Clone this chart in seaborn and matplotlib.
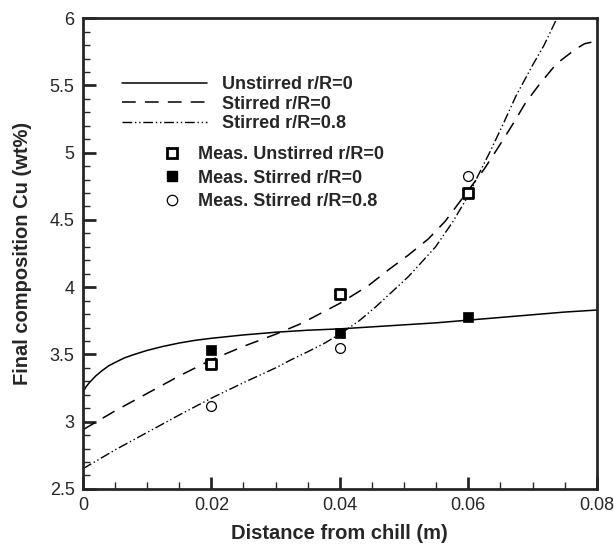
import numpy as np
import pandas as pd
import seaborn as sns
import matplotlib.pyplot as plt
from matplotlib.ticker import MultipleLocator
from matplotlib.lines import Line2D

# Simulated curves
x_unstirred = [0.0, 0.0005, 0.001, 0.002, 0.003, 0.004, 0.005, 0.0065, 0.008, 0.01, 0.0125,
               0.015, 0.0175, 0.02, 0.025, 0.03, 0.035, 0.04, 0.045, 0.05, 0.055, 0.06,
               0.065, 0.07, 0.075, 0.08]
y_unstirred = [3.22, 3.26, 3.29, 3.34, 3.38, 3.415, 3.44, 3.475, 3.50, 3.53, 3.56,
               3.585, 3.605, 3.62, 3.645, 3.665, 3.68, 3.69, 3.705, 3.72, 3.735, 3.755,
               3.775, 3.795, 3.815, 3.83]

x_stirred0 = [0.0, 0.005, 0.01, 0.015, 0.02, 0.025, 0.03, 0.034, 0.0376, 0.04, 0.0444,
              0.0476, 0.0507, 0.0538, 0.0564, 0.06, 0.0625, 0.0648, 0.0669, 0.0689,
              0.0711, 0.0737, 0.0767, 0.0781, 0.08]
y_stirred0 = [2.94, 3.08, 3.21, 3.34, 3.46, 3.56, 3.65, 3.73, 3.82, 3.88, 4.01,
              4.13, 4.24, 4.36, 4.49, 4.72, 4.88, 5.05, 5.21, 5.37,
              5.51, 5.66, 5.77, 5.81, 5.83]

x_stirred08 = [0.0, 0.005, 0.01, 0.015, 0.02, 0.025, 0.03, 0.0324, 0.035, 0.0375, 0.0403,
               0.043, 0.0455, 0.048, 0.0507, 0.053, 0.0549, 0.0575, 0.06, 0.0611, 0.0632,
               0.0653, 0.0674, 0.07, 0.0718, 0.0738, 0.075]
y_stirred08 = [2.65, 2.79, 2.92, 3.05, 3.175, 3.29, 3.40, 3.46, 3.52, 3.58, 3.66,
               3.75, 3.85, 3.96, 4.08, 4.20, 4.30, 4.48, 4.68, 4.79, 4.99,
               5.20, 5.42, 5.65, 5.80, 6.00, 6.10]

# Measurements
x_meas = [0.02, 0.04, 0.06]
meas_unstirred = [3.43, 3.95, 4.70]
meas_stirred0 = [3.53, 3.66, 3.78]
meas_stirred08 = [3.12, 3.55, 4.83]

dash_style = (0, (9, 6))
dashdot_style = (0, (7, 2, 1, 2, 1, 2))

sns.set_style("ticks")
plt.rcParams['font.family'] = ['Liberation Sans', 'DejaVu Sans']

fig = plt.figure(figsize=(6.14, 5.5), dpi=100)
ax = fig.add_axes([0.135, 0.111, 0.837, 0.856])

curves = pd.DataFrame({'x': x_unstirred, 'y': y_unstirred})
sns.lineplot(data=curves, x='x', y='y', ax=ax, color='black', lw=1.1,
             sort=False, estimator=None)
curves = pd.DataFrame({'x': x_stirred0, 'y': y_stirred0})
sns.lineplot(data=curves, x='x', y='y', ax=ax, color='black', lw=1.1,
             sort=False, estimator=None, linestyle=dash_style)
curves = pd.DataFrame({'x': x_stirred08, 'y': y_stirred08})
sns.lineplot(data=curves, x='x', y='y', ax=ax, color='black', lw=1.0,
             sort=False, estimator=None, linestyle=dashdot_style)

meas = pd.DataFrame({'x': x_meas, 'u': meas_unstirred, 's0': meas_stirred0, 's8': meas_stirred08})
sns.scatterplot(data=meas, x='x', y='u', ax=ax, marker='s', s=48, facecolor='white',
                edgecolor='black', linewidth=2, zorder=5)
sns.scatterplot(data=meas, x='x', y='s0', ax=ax, marker='s', s=50, color='black',
                edgecolor='black', linewidth=0.5, zorder=5)
sns.scatterplot(data=meas, x='x', y='s8', ax=ax, marker='o', s=50, facecolor='white',
                edgecolor='black', linewidth=0.9, zorder=5)

ax.set_xlim(0, 0.08)
ax.set_ylim(2.5, 6)
ax.set_xticks([0, 0.02, 0.04, 0.06, 0.08])
ax.set_xticklabels(['0', '0.02', '0.04', '0.06', '0.08'])
ax.set_yticks([2.5, 3, 3.5, 4, 4.5, 5, 5.5, 6])
ax.set_yticklabels(['2.5', '3', '3.5', '4', '4.5', '5', '5.5', '6'])
ax.xaxis.set_minor_locator(MultipleLocator(0.005))
ax.yaxis.set_minor_locator(MultipleLocator(0.1))
ax.tick_params(which='major', direction='in', length=9, width=2, labelsize=13, pad=6)
ax.tick_params(which='minor', direction='in', length=5, width=1)
for sp in ax.spines.values():
    sp.set_linewidth(2)
    sp.set_visible(True)

ax.set_xlabel('Distance from chill (m)', fontsize=14.5, fontweight='bold', labelpad=7)
ax.set_ylabel('Final composition Cu (wt%)', fontsize=14.5, fontweight='bold', labelpad=13)

line_handles = [
    Line2D([], [], color='black', lw=1.1),
    Line2D([], [], color='black', lw=1.1, linestyle=dash_style),
    Line2D([], [], color='black', lw=1.0, linestyle=dashdot_style),
]
line_labels = ['Unstirred r/R=0', 'Stirred r/R=0', 'Stirred r/R=0.8']
leg1 = ax.legend(line_handles, line_labels, loc='upper left', bbox_to_anchor=(0.045, 0.912),
                 frameon=False, handlelength=4.7, handletextpad=0.8, labelspacing=0.15,
                 prop={'weight': 'bold', 'size': 13})
ax.add_artist(leg1)

mark_handles = [
    Line2D([], [], ls='', marker='s', ms=7.5, mfc='white', mec='black', mew=2),
    Line2D([], [], ls='', marker='s', ms=7.5, mfc='black', mec='black'),
    Line2D([], [], ls='', marker='o', ms=7.5, mfc='white', mec='black', mew=0.9),
]
mark_labels = ['Meas. Unstirred r/R=0', 'Meas. Stirred r/R=0', 'Meas. Stirred r/R=0.8']
ax.legend(mark_handles, mark_labels, loc='upper left', bbox_to_anchor=(0.125, 0.762),
          frameon=False, handlelength=1.0, handletextpad=0.9, labelspacing=0.35,
          prop={'weight': 'bold', 'size': 13})

fig.savefig('out.png', dpi=100)
